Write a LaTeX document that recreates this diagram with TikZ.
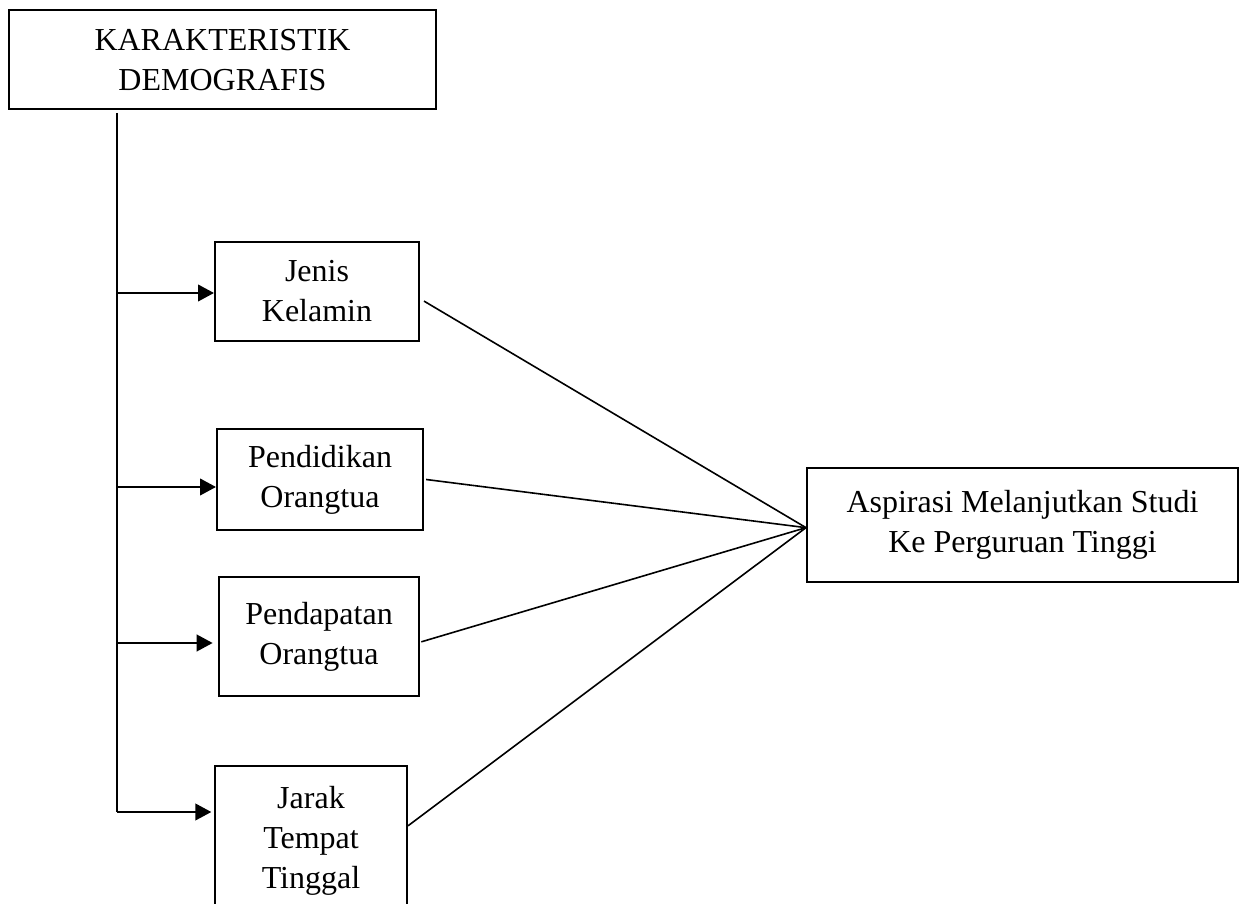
\documentclass[tikz,border=0pt]{standalone}
\usepackage{fontspec}
\setmainfont{Liberation Serif}
\usetikzlibrary{arrows.meta}
\begin{document}
\begin{tikzpicture}[x=0.375pt,y=-0.375pt,
  box/.style={draw,line width=0.75pt,align=center,inner sep=0pt,
    font=\fontsize{12}{15}\selectfont},
  arr/.style={line width=0.9pt,-{Triangle[length=6pt,width=6.2pt]}},
  link/.style={line width=0.6pt}]
  \def\u{0.375pt}   % one pixel of the sketch

  \useasboundingbox (0,0) rectangle (1244,904);
  \clip (0,0) rectangle (1244,904);

  % top box
  \node[box,minimum width=427*\u,minimum height=99*\u] (demo) at (222.5,60)
    {KARAKTERISTIK\\DEMOGRAFIS};

  % factors
  \node[box,minimum width=204*\u,minimum height=99*\u] (jenis) at (317,291.5)
    {Jenis\\Kelamin};
  \node[box,minimum width=206*\u,minimum height=101*\u] (didik) at (320,479.5)
    {Pendidikan\\Orangtua};
  \node[box,minimum width=200*\u,minimum height=119*\u] (dapat) at (319,636.5)
    {Pendapatan\\Orangtua};
  \node[box,minimum width=192*\u,minimum height=149*\u] (jarak) at (311,840.5)
    {Jarak\\Tempat\\Tinggal};

  % outcome
  \node[box,minimum width=431*\u,minimum height=114*\u] (aspi) at (1022.5,525)
    {Aspirasi Melanjutkan Studi\\Ke Perguruan Tinggi};

  % trunk and branches
  \coordinate (top) at (117,113);
  \coordinate (b1) at (117,293);
  \coordinate (b2) at (117,487);
  \coordinate (b3) at (117,643);
  \coordinate (b4) at (117,812);
  \draw[line width=0.75pt] (top) -- (b4);
  \draw[arr] (b1) -- (b1 -| jenis.west);
  \draw[arr] (b2) -- (b2 -| didik.west);
  \draw[arr] (b3) -- ([xshift=-2pt]b3 -| dapat.west);
  \draw[arr] (b4) -- ([xshift=-1pt]b4 -| jarak.west);

  % links to outcome
  \coordinate (hub) at ([yshift=-1pt]aspi.west);
  \draw[link] ([xshift=1.5pt,yshift=-3.6pt]jenis.east) -- (hub);
  \draw[link] ([xshift=0.8pt]didik.east) -- (hub);
  \draw[link] ([xshift=0.5pt,yshift=-2pt]dapat.east) -- (hub);
  \draw[link] ([yshift=5.5pt]jarak.east) -- (hub);
\end{tikzpicture}
\end{document}
